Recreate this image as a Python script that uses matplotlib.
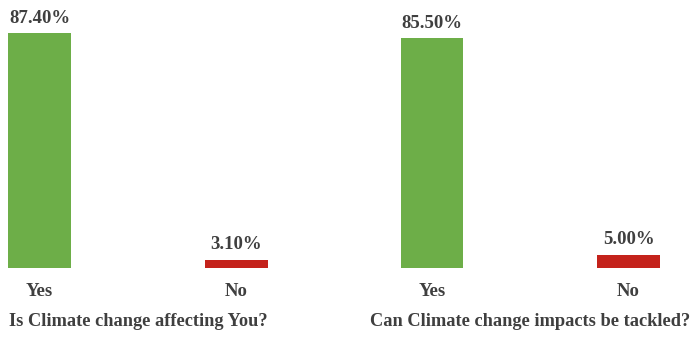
import matplotlib
matplotlib.use("Agg")
import matplotlib.pyplot as plt

categories = ["Yes", "No"]
values_left = [87.40, 3.10]
values_right = [85.50, 5.00]
titles = ["Is Climate change affecting You?", "Can Climate change impacts be tackled?"]
colors = ["#6DAE48", "#C4221B"]
text_color = "#3f3f3f"

W, H = 692, 339
fig = plt.figure(figsize=(W / 100, H / 100), dpi=100)
plt.rcParams['font.family'] = ['Liberation Serif', 'DejaVu Serif']

def make_axes(center0_px, spacing_px):
    x0 = -0.19
    x1 = 1.19
    left = center0_px + x0 * spacing_px
    width = (x1 - x0) * spacing_px
    bottom = (H - 268) / H
    height = 95 * 2.69 / H
    ax = fig.add_axes([left / W, bottom, width / W, height])
    ax.set_xlim(x0, x1)
    ax.set_ylim(0, 95)
    return ax

panels = [(39.5, 197, values_left, titles[0]), (432, 196.5, values_right, titles[1])]
for c0, sp, vals, title in panels:
    ax = make_axes(c0, sp)
    xs = list(range(len(categories)))
    ax.bar(xs, vals, width=0.32, color=colors)
    for x, v in zip(xs, vals):
        ax.annotate(f"{v:.2f}%", (x, v), xytext=(0, 4.5), textcoords="offset points",
                    ha="center", va="bottom", fontsize=13.5, fontweight="bold",
                    color=text_color, annotation_clip=False)
    ax.set_xticks(xs)
    ax.set_xticklabels(categories, fontsize=13.5, fontweight="bold", color=text_color)
    ax.tick_params(axis="x", length=0, pad=10.5)
    ax.set_yticks([])
    for s in ax.spines.values():
        s.set_visible(False)
    ax.set_xlabel(title, fontsize=13.2, fontweight="bold", color=text_color, labelpad=9.5)

fig.savefig("out.png", dpi=100)
